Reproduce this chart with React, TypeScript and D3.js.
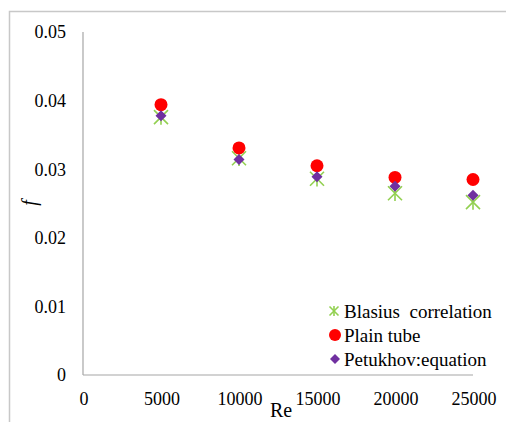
import React from "react";
import * as d3 from "d3";

const reynolds = [5000, 10000, 15000, 20000, 25000];
const blasius = [0.0376, 0.0316, 0.0286, 0.0265, 0.0252];
const plainTube = [0.0394, 0.0331, 0.0305, 0.0288, 0.0285];
const petukhov = [0.0378, 0.0314, 0.0289, 0.0275, 0.0262];
const xTicks = [0, 5000, 10000, 15000, 20000, 25000];
const yTicks = [0, 0.01, 0.02, 0.03, 0.04, 0.05];
const legendLabels = ["Blasius  correlation", "Plain tube", "Petukhov:equation"];

const W = 506;
const H = 422;
const FONT =
  "'Liberation Serif', 'Times New Roman', Tinos, 'Nimbus Roman', 'Noto Serif', 'DejaVu Serif', serif";
const GREEN = "#92D050";
const RED = "#FF0000";
const PURPLE = "#7030A0";

const x = d3.scaleLinear().domain([0, 25000]).range([83, 473]);
const y = d3.scaleLinear().domain([0, 0.05]).range([375, 32]);

const textStyle: React.CSSProperties = { fontFamily: FONT, whiteSpace: "pre" };

function Star({ cx, cy, s }: { cx: number; cy: number; s: number }) {
  return (
    <g stroke={GREEN} strokeWidth={1.6} fill="none">
      <line x1={cx - s} y1={cy - s} x2={cx + s} y2={cy + s} />
      <line x1={cx - s} y1={cy + s} x2={cx + s} y2={cy - s} />
      <line x1={cx} y1={cy - s * 1.1} x2={cx} y2={cy + s * 1.1} />
    </g>
  );
}

function Diamond({ cx, cy, r }: { cx: number; cy: number; r: number }) {
  return (
    <path
      d={`M${cx},${cy - r}L${cx + r},${cy}L${cx},${cy + r}L${cx - r},${cy}Z`}
      fill={PURPLE}
    />
  );
}

export default function App() {
  return (
    <svg
      width={W}
      height={H}
      style={{ position: "absolute", left: 0, top: 0, background: "#fff" }}
    >
      <rect x={0} y={0} width={W} height={H} fill="#fff" />
      {/* outer frame */}
      <path d={`M9.5,${H}V11.5H${W}`} fill="none" stroke="#c8c8c8" strokeWidth={1.5} />

      {/* axes */}
      <line x1={x(0)} y1={y(0.05)} x2={x(0)} y2={y(0)} stroke="#a6a6a6" strokeWidth={1.2} />
      <line x1={x(0)} y1={y(0)} x2={x(25000)} y2={y(0)} stroke="#a6a6a6" strokeWidth={1.2} />

      {yTicks.map((t) => (
        <text key={t} x={66} y={y(t)} dy="0.35em" textAnchor="end" fontSize={18} fill="#000" style={textStyle}>
          {t === 0 ? "0" : d3.format(".2f")(t)}
        </text>
      ))}
      {xTicks.map((t) => (
        <text key={t} x={x(t) + 1} y={405} textAnchor="middle" fontSize={18} fill="#000" style={textStyle}>
          {t}
        </text>
      ))}

      <text x={281} y={417} textAnchor="middle" fontSize={20} fill="#000" style={textStyle}>Re</text>
      <text
        transform="translate(29,203) rotate(-90)"
        textAnchor="middle"
        dy="0.35em"
        fontSize={20}
        fontStyle="italic"
        fill="#000"
        style={textStyle}
      >
        f
      </text>

      {/* series */}
      {reynolds.map((r, i) => (
        <Star key={"b" + i} cx={x(r)} cy={y(blasius[i])} s={7} />
      ))}
      {reynolds.map((r, i) => (
        <circle key={"p" + i} cx={x(r)} cy={y(plainTube[i])} r={6.5} fill={RED} />
      ))}
      {reynolds.map((r, i) => (
        <Diamond key={"k" + i} cx={x(r)} cy={y(petukhov[i])} r={5.5} />
      ))}

      {/* legend */}
      <g>
        <Star cx={334} cy={311} s={4.5} />
        <text x={344} y={311} dy="0.35em" fontSize={19} fill="#000" style={textStyle}>
          {legendLabels[0]}
        </text>
        <circle cx={335} cy={335} r={6} fill={RED} />
        <text x={344} y={335} dy="0.35em" fontSize={19} fill="#000" style={textStyle}>{legendLabels[1]}</text>
        <Diamond cx={335} cy={359} r={5} />
        <text x={344} y={359} dy="0.35em" fontSize={19} fill="#000" style={textStyle}>{legendLabels[2]}</text>
      </g>
    </svg>
  );
}
